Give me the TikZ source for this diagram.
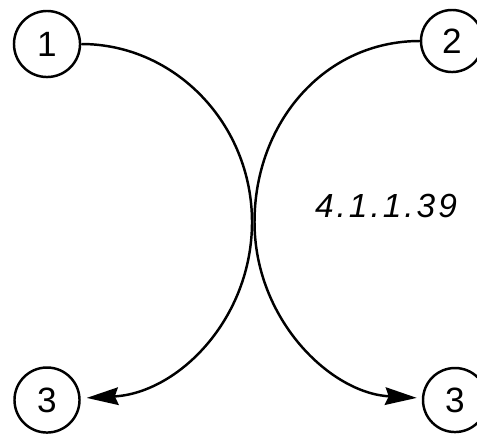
\documentclass[tikz,border=0pt]{standalone}
\usepackage{fontspec}
\setmainfont{Liberation Sans}
\newfontfamily\labelfont[LetterSpace=9]{Liberation Sans}
\usetikzlibrary{arrows.meta, positioning}

\begin{document}
\begin{tikzpicture}[x=0.01cm, y=0.01cm, line width=0.7pt,
        numcirc/.style={draw, circle, inner sep=0pt, font=\fontsize{10}{12}\selectfont},
        curve/.style={-{Stealth[length=9pt, width=5pt, inset=1pt]}}]
        \useasboundingbox (0,0) rectangle (477,435);
        % Circles
        \node (one) [numcirc, minimum size=0.66cm] at (47,391) {1};
        \node (two) [numcirc, minimum size=0.62cm] at (452,394) {2};
        \node (threeleft) [numcirc, minimum size=0.65cm] at (47,35) {3};
        \node (threeright) [numcirc, minimum size=0.64cm] at (455,35) {3};

        % Label
        \node (tag) at (386,229) {\labelfont\itshape\fontsize{9.5}{12}\selectfont 4.1.1.39};

        % Touching points
        \coordinate (touchleft) at (252,213);
        \coordinate (touchright) at (254.5,213);

        % Curves
        \draw[curve, shorten >=0.06cm] (one) .. controls +(128,0) and +(0,98) .. (touchleft)
            .. controls +(0,-97) and +(131,7) .. (threeleft);
        \draw[curve, shorten >=0.05cm] (two) .. controls +(-128,0) and +(0,99) .. (touchright)
            .. controls +(0,-97) and +(-125,7) .. (threeright);
    \end{tikzpicture}
\end{document}
